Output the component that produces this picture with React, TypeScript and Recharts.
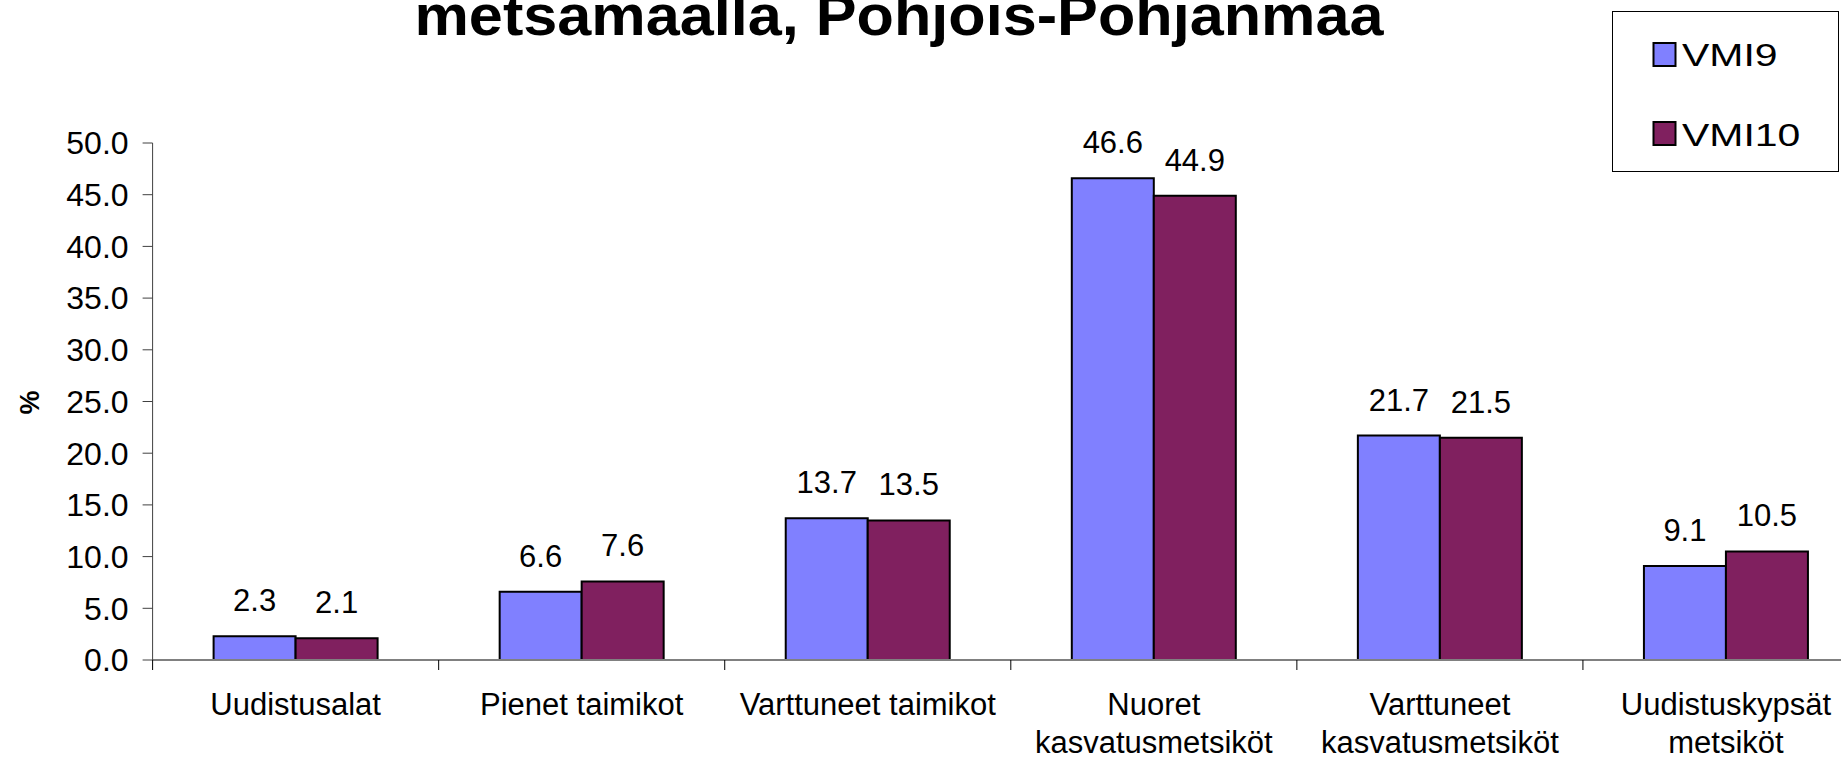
import { BarChart, Bar, XAxis, YAxis, LabelList } from 'recharts';

const FONT = '"Liberation Sans", Arial, sans-serif';

// category labels, "\n" marks a line break
const categories = [
  'Uudistusalat',
  'Pienet taimikot',
  'Varttuneet taimikot',
  'Nuoret\nkasvatusmetsiköt',
  'Varttuneet\nkasvatusmetsiköt',
  'Uudistuskypsät\nmetsiköt',
];
const vmi9 = [2.3, 6.6, 13.7, 46.6, 21.7, 9.1];
const vmi10 = [2.1, 7.6, 13.5, 44.9, 21.5, 10.5];
const yTicks = [0, 5, 10, 15, 20, 25, 30, 35, 40, 45, 50];
const titleText = 'metsamaalla, Pohjois-Pohjanmaa';
const yLabel = '%';

const series = [
  { key: 'VMI9', color: '#8080ff' },
  { key: 'VMI10', color: '#80205f' },
];

const data = categories.map((name, i) => ({ name, VMI9: vmi9[i], VMI10: vmi10[i] }));

const CHART_W = 1890;
const MARGIN = { top: 143, right: 21, bottom: 99, left: 0 };
const Y_W = 152.6;
const BAND = (CHART_W - MARGIN.left - MARGIN.right - Y_W) / categories.length;

// label plus the tick mark on the left edge of each category (Excel style)
function CategoryTick({ x, y, payload }: any) {
  const lines = String(payload.value).split('\n');
  const edge = x - BAND / 2;
  return (
    <g>
      <line x1={edge} x2={edge} y1={y} y2={y + 10} stroke="#000" strokeWidth={1} />
      <text x={x} y={y} textAnchor="middle" fontSize={31} fill="#000" fontFamily={FONT}>
        {lines.map((line, i) => (
          <tspan key={i} x={x} dy={i === 0 ? 55 : 38}>
            {line}
          </tspan>
        ))}
      </text>
    </g>
  );
}

export default function App() {
  return (
    <div
      style={{
        position: 'absolute',
        left: 0,
        top: 0,
        width: 1841,
        height: 760,
        overflow: 'hidden',
        background: '#fff',
        fontFamily: FONT,
      }}
    >
      <BarChart width={CHART_W} height={760} data={data} margin={MARGIN} barGap={0}>
        <XAxis
          dataKey="name"
          height={1}
          interval={0}
          tickLine={false}
          tickSize={0}
          tickMargin={0}
          axisLine={{ stroke: '#808080', strokeWidth: 2 }}
          tick={<CategoryTick />}
        />
        <YAxis
          width={Y_W}
          domain={[0, 50]}
          ticks={yTicks}
          interval={0}
          tickFormatter={(v: number) => v.toFixed(1)}
          tick={{ fontSize: 32, fill: '#000', fontFamily: FONT }}
          axisLine={{ stroke: '#404040', strokeWidth: 1 }}
          tickLine={{ stroke: '#404040', strokeWidth: 1 }}
          tickSize={10}
          tickMargin={14}
        />
        {series.map((s) => (
          <Bar
            key={s.key}
            dataKey={s.key}
            fill={s.color}
            stroke="#000"
            strokeWidth={2}
            barSize={82}
            isAnimationActive={false}
          >
            <LabelList
              dataKey={s.key}
              position="top"
              offset={25}
              formatter={(v: any) => Number(v).toFixed(1)}
              fontSize={31}
              fill="#000"
              fontFamily={FONT}
            />
          </Bar>
        ))}
      </BarChart>

      <svg
        width={1841}
        height={760}
        style={{ position: 'absolute', left: 0, top: 0, pointerEvents: 'none' }}
      >
        <text
          transform="translate(899,35) scale(1.055,1)"
          textAnchor="middle"
          fontSize={58}
          fontWeight="bold"
          fontFamily={FONT}
          fill="#000"
        >
          {titleText}
        </text>
        <text
          transform="translate(38.5,402.5) rotate(-90)"
          textAnchor="middle"
          fontSize={27}
          fontWeight="bold"
          fontFamily={FONT}
          fill="#000"
        >
          {yLabel}
        </text>
        <rect x={1612.5} y={11.5} width={226} height={160} fill="#fff" stroke="#000" strokeWidth={1} />
        {series.map((s, i) => (
          <g key={s.key}>
            <rect x={1653.5} y={43 + i * 79} width={22} height={23} fill={s.color} stroke="#000" strokeWidth={2} />
            <text
              transform={`translate(1682,${66 + i * 79.5}) scale(1.28,1)`}
              fontSize={32}
              fontFamily={FONT}
              fill="#000"
            >
              {s.key}
            </text>
          </g>
        ))}
      </svg>
    </div>
  );
}
